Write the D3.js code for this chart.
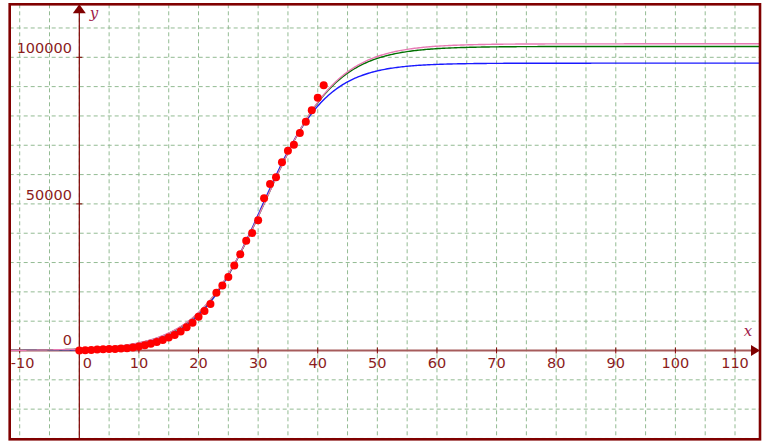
<!DOCTYPE html>
<html>
<head>
<meta charset="utf-8">
<script src="https://cdn.jsdelivr.net/npm/d3@7"></script>
<style>
  html, body { margin: 0; padding: 0; background: #ffffff; }
  svg { display: block; }
</style>
</head>
<body>
<svg id="chart" width="768" height="447"></svg>
<script>
// ---- data ----
const dayIndex = d3.range(0, 42);
const cases = [0, 100, 200, 300, 400, 500, 550, 650, 800, 1000,
  1350, 1750, 2300, 2900, 3600, 4400, 5300, 6500, 7900, 9500,
  11500, 13500, 15900, 19700, 22200, 25100, 29000, 32800, 37400, 40100,
  44400, 51900, 56800, 59100, 64200, 68100, 70200, 74200, 78000, 81900,
  86200, 90500];

// logistic fit curves: L / (1 + exp(-k (x - x0)))
const curveNames = ["blue", "green", "pink"];
const curveColors = ["#1a1aff", "#007000", "#e879b4"];
const curveL = [98000, 103700, 104600];
const curveK = [0.185, 0.172, 0.170];
const curveX0 = [30.6, 31.4, 31.5];

const xTicks = [-10, 0, 10, 20, 30, 40, 50, 60, 70, 80, 90, 100, 110];
const yTicks = [0, 50000, 100000];
const xGrid = d3.range(-10, 115, 5);
const yGrid = d3.range(-30000, 120000, 10000);

// ---- layout ----
const svg = d3.select("#chart");
const box = {left: 9.7, top: 4.3, right: 760, bottom: 439.3};
const x = d3.scaleLinear().domain([-10, 110]).range([19.7, 735]);
const y = d3.scaleLinear().domain([0, 100000]).range([350.5, 57.3]);
const axisColor = "#800000";
const labelColor = "#8b1c1c";

svg.append("defs").append("clipPath").attr("id", "clip")
  .append("rect")
  .attr("x", box.left).attr("y", box.top)
  .attr("width", box.right - box.left).attr("height", box.bottom - box.top);

const plot = svg.append("g").attr("clip-path", "url(#clip)");

// grid
plot.append("g").selectAll("line").data(xGrid).join("line")
  .attr("x1", d => x(d)).attr("x2", d => x(d))
  .attr("y1", box.top).attr("y2", box.bottom)
  .attr("stroke", "#93bb93").attr("stroke-width", 1)
  .attr("stroke-dasharray", "4,3");
plot.append("g").selectAll("line").data(yGrid).join("line")
  .attr("y1", d => y(d)).attr("y2", d => y(d))
  .attr("x1", box.left).attr("x2", box.right)
  .attr("stroke", "#93bb93").attr("stroke-width", 1)
  .attr("stroke-dasharray", "4,3");

// axes lines
plot.append("line")
  .attr("x1", box.left).attr("x2", 752)
  .attr("y1", y(0)).attr("y2", y(0))
  .attr("stroke", "#a65c5c").attr("stroke-width", 2.2);
plot.append("line")
  .attr("x1", x(0)).attr("x2", x(0))
  .attr("y1", 12).attr("y2", box.bottom)
  .attr("stroke", axisColor).attr("stroke-width", 1.2);

// tick marks
plot.append("g").selectAll("line").data(xTicks.filter(d => d !== 0)).join("line")
  .attr("x1", d => x(d)).attr("x2", d => x(d))
  .attr("y1", y(0) - 3).attr("y2", y(0) + 3)
  .attr("stroke", axisColor).attr("stroke-width", 1);
plot.append("g").selectAll("line").data(yTicks.filter(d => d !== 0)).join("line")
  .attr("x1", x(0) - 3).attr("x2", x(0) + 3)
  .attr("y1", d => y(d)).attr("y2", d => y(d))
  .attr("stroke", axisColor).attr("stroke-width", 1);

// curves
const xs = d3.range(-12, 116, 0.25);
curveNames.forEach((name, i) => {
  const line = d3.line()
    .x(d => x(d))
    .y(d => y(curveL[i] / (1 + Math.exp(-curveK[i] * (d - curveX0[i])))));
  plot.append("path").datum(xs)
    .attr("d", line)
    .attr("fill", "none")
    .attr("stroke", curveColors[i])
    .attr("stroke-width", 1.4);
});

// data points
plot.append("g").selectAll("circle").data(dayIndex).join("circle")
  .attr("cx", d => x(d)).attr("cy", (d, i) => y(cases[i]))
  .attr("r", 4).attr("fill", "#ff0000");

// arrows
svg.append("path")
  .attr("d", `M${box.right},${y(0)} L${box.right - 9},${y(0) - 5.5} L${box.right - 9},${y(0) + 5.5} Z`)
  .attr("fill", axisColor);
svg.append("path")
  .attr("d", `M${x(0)},${box.top} L${x(0) - 6.5},${box.top + 9} L${x(0) + 6.5},${box.top + 9} Z`)
  .attr("fill", axisColor);

// tick labels
const font = "'DejaVu Sans', Verdana, sans-serif";
svg.append("g").selectAll("text").data(xTicks).join("text")
  .attr("x", d => d === 0 ? x(0) + 8 : (d < 0 ? x(d) + 3 : x(d)))
  .attr("y", 368)
  .attr("text-anchor", "middle")
  .attr("font-family", font).attr("font-size", 14.5)
  .attr("fill", labelColor)
  .text(d => d < 0 ? "-" + Math.abs(d) : d);
svg.append("g").selectAll("text").data(yTicks).join("text")
  .attr("x", 72)
  .attr("y", d => d === 0 ? 345 : y(d) - 4)
  .attr("text-anchor", "end")
  .attr("font-family", font).attr("font-size", 14.5)
  .attr("fill", labelColor)
  .text(d => d);

// axis names
svg.append("text").attr("x", 748).attr("y", 336)
  .attr("text-anchor", "middle")
  .attr("font-family", "'DejaVu Serif', 'Liberation Serif', serif")
  .attr("font-style", "italic").attr("font-size", 15)
  .attr("fill", "#a0204a").text("x");
svg.append("text").attr("x", 94).attr("y", 18)
  .attr("text-anchor", "middle")
  .attr("font-family", "'DejaVu Serif', 'Liberation Serif', serif")
  .attr("font-style", "italic").attr("font-size", 15)
  .attr("fill", "#a0204a").text("y");

// border
svg.append("rect")
  .attr("x", box.left).attr("y", box.top)
  .attr("width", box.right - box.left).attr("height", box.bottom - box.top)
  .attr("fill", "none").attr("stroke", axisColor).attr("stroke-width", 2.6);
</script>
</body>
</html>
